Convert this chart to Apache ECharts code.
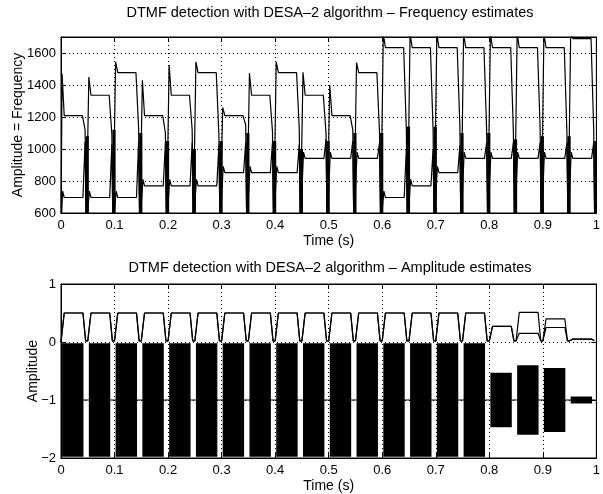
<!DOCTYPE html>
<html>
<head>
<meta charset="utf-8">
<script src="https://cdn.jsdelivr.net/npm/echarts@6/dist/echarts.min.js"></script>
<style>
  html, body { margin: 0; padding: 0; background: #fff; }
  #chart { width: 603px; height: 494px; }
</style>
</head>
<body>
<div id="chart"></div>
<script>
// values, one entry per 50 ms digit slot
const slotStart = [0, 0.05, 0.1, 0.15, 0.2, 0.25, 0.3, 0.35, 0.4, 0.45,
                   0.5, 0.55, 0.6, 0.65, 0.7, 0.75, 0.8, 0.85, 0.9, 0.95];
const lowFreq  = [697, 697, 697, 770, 770, 770, 852, 852, 852, 941,
                  941, 941, 697, 770, 852, 941, 941, 941, 941, 941];
const highFreq = [1209, 1336, 1477, 1209, 1336, 1477, 1209, 1336, 1477, 1336,
                  1209, 1477, 1633, 1633, 1633, 1633, 1633, 1633, 1633, 1690];
// overshoot of the high estimate when a tone starts
const spikeFreq = [1470, 1450, 1545, 1430, 1525, 1545, 1260, 1475, 1545, 1480,
                   1400, 1540, 1720, 1720, 1720, 1720, 1720, 1720, 1720, 1720];
// where both estimates drift to as a tone dies away
const endHigh = [1120, 1090, 1130, 1100, 1120, 1080, 1150, 1110, 1130, 1100,
                 1120, 1100, 1130, 1120, 1150, 1120, 1100, 1120, 1100, 1120];
const endLow  = [1045, 1030, 1050, 1040, 1040, 1030, 1040, 1040, 1030, 1060,
                 1050, 1040, 1000, 1000, 1020, 1040, 1040, 1040, 1040, 1040];
// top of the noisy burst in the gap after each slot
const gapTop = [1080, 1120, 1100, 1050, 1000, 1050, 1100, 1050, 1000, 1050,
                1100, 1100, 1140, 1140, 1100, 1100, 1060, 1080, 1080, 1050];

const ampHigh = [0.5, 0.5, 0.5, 0.5, 0.5, 0.5, 0.5, 0.5, 0.5, 0.5,
                 0.5, 0.5, 0.5, 0.5, 0.5, 0.5, 0.27, 0.51, 0.40, 0.05];
const ampLow  = [0.5, 0.5, 0.5, 0.5, 0.5, 0.5, 0.5, 0.5, 0.5, 0.5,
                 0.5, 0.5, 0.5, 0.5, 0.5, 0.5, 0.27, 0.15, 0.25, 0.05];
const ampGap = 0.02;
// half height of the (offset) tone waveform in each slot
const sigAmp = [0.98, 0.98, 0.98, 0.98, 0.98, 0.98, 0.98, 0.98, 0.98, 0.98,
                0.98, 0.98, 0.98, 0.98, 0.98, 0.98, 0.47, 0.6, 0.55, 0.06];
const sigOffset = -1;

const timeTicks = [0, 0.1, 0.2, 0.3, 0.4, 0.5, 0.6, 0.7, 0.8, 0.9, 1];
const freqTicks = [600, 800, 1000, 1200, 1400, 1600];
const freqTop = 1700;
const ampTicks = [-2, -1, 0, 1];

const FONT = '"Liberation Sans", Arial, Helvetica, sans-serif';
const BELOW = 500; // off-scale value, clipped by the axis

// build the step curves of the frequency estimates
let hiData = [[0, BELOW]], loData = [[0, BELOW]], burst = [];
slotStart.forEach((t0, i) => {
    hiData.push([t0 + 0.002, spikeFreq[i]], [t0 + 0.006, highFreq[i]], [t0 + 0.040, highFreq[i]],
                [t0 + 0.045, endHigh[i]], [t0 + 0.047, BELOW]);
    loData.push([t0 + 0.003, lowFreq[i] + 40], [t0 + 0.006, lowFreq[i]], [t0 + 0.041, lowFreq[i]],
                [t0 + 0.045, endLow[i]], [t0 + 0.047, BELOW]);
    burst.push([t0 + 0.046, t0 + 0.052, gapTop[i]]);
});

// amplitude estimates and the waveform blocks
let ampHiData = [[0, 0]], ampLoData = [[0, 0]], blocks = [];
slotStart.forEach((t0, i) => {
    if (i > 0) { ampHiData.push([t0, ampGap]); ampLoData.push([t0, ampGap]); }
    ampHiData.push([t0 + 0.006, ampHigh[i]], [t0 + 0.041, ampHigh[i]], [t0 + 0.046, ampGap]);
    ampLoData.push([t0 + 0.006, ampLow[i]], [t0 + 0.041, ampLow[i]], [t0 + 0.046, ampGap]);
    blocks.push([t0 + 0.002, t0 + 0.042, sigOffset - sigAmp[i], sigOffset + sigAmp[i]]);
});

const chart = echarts.init(document.getElementById('chart'));

const dotted = { color: '#000', type: [1, 3], width: 1 };
const tickText = { color: '#000', fontSize: 13, fontFamily: FONT };
const nameText = { color: '#000', fontSize: 14, fontFamily: FONT };
const titleText = { color: '#000', fontSize: 14.5, fontWeight: 'normal', fontFamily: FONT };

function xAxisOf(grid, top) {
    return {
        type: 'value', gridIndex: grid, position: top ? 'top' : 'bottom',
        min: timeTicks[0], max: timeTicks[timeTicks.length - 1], interval: timeTicks[1] - timeTicks[0],
        axisLine: { show: true, onZero: false, lineStyle: { color: '#000', width: 1 } },
        axisTick: { show: true, inside: true, length: 5, lineStyle: { color: '#000' } },
        axisLabel: Object.assign({ show: !top, margin: 6 }, tickText),
        splitLine: { show: !top, lineStyle: dotted },
        name: top ? '' : 'Time (s)', nameLocation: 'middle', nameGap: 21,
        nameMoveOverlap: false,
        nameTextStyle: nameText
    };
}

function yAxisOf(grid, right, ticks, max, name, gap) {
    return {
        type: 'value', gridIndex: grid, position: right ? 'right' : 'left',
        min: ticks[0], max: max, interval: ticks[1] - ticks[0],
        axisLine: { show: true, onZero: false, lineStyle: { color: '#000', width: 1 } },
        axisTick: { show: true, inside: true, length: 5, lineStyle: { color: '#000' } },
        axisLabel: Object.assign({
            show: !right, margin: 5,
            formatter: v => ticks.includes(v) ? String(v).replace('-', '\u2212') : ''
        }, tickText),
        splitLine: { show: !right, lineStyle: dotted },
        name: right ? '' : name, nameLocation: 'middle', nameRotate: 90, nameGap: gap,
        nameMoveOverlap: false,
        nameTextStyle: nameText
    };
}

function rectItem(params, api) {
    const a = api.coord([api.value(0), api.value(3)]);
    const b = api.coord([api.value(1), api.value(2)]);
    return {
        type: 'rect',
        shape: { x: a[0], y: a[1], width: b[0] - a[0], height: b[1] - a[1] },
        style: { fill: '#000' }
    };
}

function burstItem(params, api) {
    const a = api.coord([api.value(0), api.value(2)]);
    const b = api.coord([api.value(1), freqTicks[0]]);
    return {
        type: 'rect',
        shape: { x: a[0], y: a[1], width: b[0] - a[0], height: b[1] - a[1] },
        style: { fill: '#000' }
    };
}

const line = (xi, yi, data, w) => ({
    type: 'line', xAxisIndex: xi, yAxisIndex: yi, data: data,
    showSymbol: false, symbol: 'none', clip: true,
    lineStyle: { color: '#000', width: w }, z: 3
});

chart.setOption({
    animation: false,
    backgroundColor: '#fff',
    title: [
        { text: 'DTMF detection with DESA\u20132 algorithm \u2013 Frequency estimates',
          left: 330, top: 5, textAlign: 'center', padding: 0, textStyle: titleText },
        { text: 'DTMF detection with DESA\u20132 algorithm \u2013 Amplitude estimates',
          left: 330, top: 260, textAlign: 'center', padding: 0, textStyle: titleText }
    ],
    grid: [
        { left: 61, right: 4, top: 37, height: 176, show: true, borderColor: '#000', borderWidth: 1 },
        { left: 61, right: 4, top: 284, height: 177, show: true, borderColor: '#000', borderWidth: 1 }
    ],
    xAxis: [xAxisOf(0, false), xAxisOf(0, true), xAxisOf(1, false), xAxisOf(1, true)],
    yAxis: [
        yAxisOf(0, false, freqTicks, freqTop, 'Amplitude = Frequency', 36),
        yAxisOf(0, true, freqTicks, freqTop, '', 0),
        yAxisOf(1, false, ampTicks, ampTicks[ampTicks.length - 1], 'Amplitude', 21),
        yAxisOf(1, true, ampTicks, ampTicks[ampTicks.length - 1], '', 0)
    ],
    series: [
        { type: 'custom', xAxisIndex: 0, yAxisIndex: 0, data: burst, renderItem: burstItem,
          encode: { x: [0, 1], y: 2 }, clip: true, z: 2 },
        line(0, 0, hiData, 1.2),
        line(0, 0, loData, 1.2),
        { type: 'custom', xAxisIndex: 2, yAxisIndex: 2, data: blocks, renderItem: rectItem,
          encode: { x: [0, 1], y: [2, 3] }, clip: true, z: 2 },
        line(2, 2, [[timeTicks[0], sigOffset], [timeTicks[timeTicks.length - 1], sigOffset]], 1),
        line(2, 2, ampHiData, 1.2),
        line(2, 2, ampLoData, 1.2)
    ]
});
</script>
</body>
</html>
